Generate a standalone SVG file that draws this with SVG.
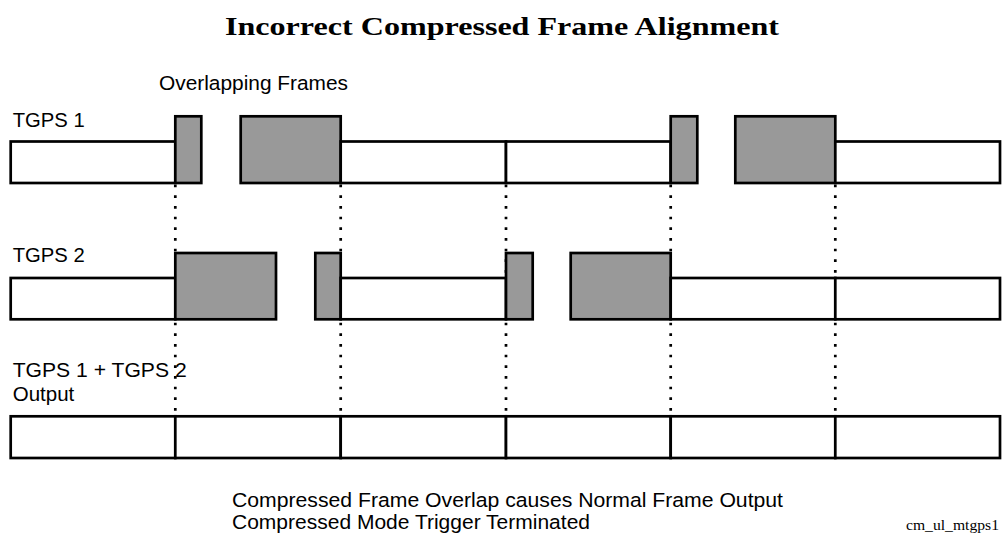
<svg xmlns="http://www.w3.org/2000/svg" width="1002" height="543" viewBox="0 0 1002 543">
<style>
.n{fill:#ffffff;stroke:#000;stroke-width:2.7}
.c{fill:#999999;stroke:#000;stroke-width:2.7}
.d{stroke:#000;stroke-width:2.7;stroke-dasharray:2.7 7.97;fill:none}
.t{font-family:"Liberation Sans",Arial,sans-serif;font-size:20.5px;fill:#000}
.h{font-family:"Liberation Serif","Times New Roman",serif;font-size:26px;font-weight:bold;fill:#000}
.s{font-family:"Liberation Serif","Times New Roman",serif;font-size:14px;fill:#000}
</style>
<rect width="1002" height="543" fill="#fff"/>
<text class="h" x="502" y="35" text-anchor="middle" textLength="554" lengthAdjust="spacingAndGlyphs">Incorrect Compressed Frame Alignment</text>
<text class="t" x="159" y="90" textLength="189" lengthAdjust="spacingAndGlyphs">Overlapping Frames</text>

<g id="connectors">
<line class="d" x1="175.3" y1="184.65" x2="175.3" y2="251.7"/>
<line class="d" x1="340.7" y1="184.65" x2="340.7" y2="251.7"/>
<line class="d" x1="506" y1="184.65" x2="506" y2="276.7"/>
<line class="d" x1="670.7" y1="184.65" x2="670.7" y2="251.7"/>
<line class="d" x1="835.3" y1="184.65" x2="835.3" y2="276.7"/>
<line class="d" x1="175.3" y1="322.65" x2="175.3" y2="415"/>
<line class="d" x1="340.7" y1="322.65" x2="340.7" y2="415"/>
<line class="d" x1="506" y1="322.65" x2="506" y2="415"/>
<line class="d" x1="670.7" y1="322.65" x2="670.7" y2="415"/>
<line class="d" x1="835.3" y1="322.65" x2="835.3" y2="415"/>
</g>

<g id="tgps1">
<text class="t" x="12.7" y="126.7" textLength="72" lengthAdjust="spacingAndGlyphs">TGPS 1</text>
<rect class="n" x="10.7" y="141.5" width="164.6" height="41.5"/>
<rect class="c" x="175.3" y="116.3" width="26" height="66.7"/>
<rect class="c" x="240.7" y="116.3" width="100" height="66.7"/>
<rect class="n" x="340.7" y="141.5" width="165.3" height="41.5"/>
<rect class="n" x="506" y="141.5" width="164.7" height="41.5"/>
<rect class="c" x="670.7" y="116.3" width="26.6" height="66.7"/>
<rect class="c" x="735.3" y="116.3" width="100" height="66.7"/>
<rect class="n" x="835.3" y="141.5" width="164.7" height="41.5"/>
</g>

<g id="tgps2">
<text class="t" x="12.7" y="262.3" textLength="72" lengthAdjust="spacingAndGlyphs">TGPS 2</text>
<rect class="n" x="10.7" y="278" width="164.6" height="41.3"/>
<rect class="c" x="175.3" y="253" width="100.7" height="66.3"/>
<rect class="c" x="315.3" y="253" width="25.4" height="66.3"/>
<rect class="n" x="340.7" y="278" width="165.3" height="41.3"/>
<rect class="c" x="506" y="253" width="26.7" height="66.3"/>
<rect class="c" x="570.7" y="253" width="100" height="66.3"/>
<rect class="n" x="670.7" y="278" width="164.6" height="41.3"/>
<rect class="n" x="835.3" y="278" width="164.7" height="41.3"/>
</g>

<g id="output">
<text class="t" x="12.7" y="376.7" textLength="174" lengthAdjust="spacingAndGlyphs">TGPS 1 + TGPS 2</text>
<text class="t" x="12.7" y="400.7">Output</text>
<rect class="n" x="10.7" y="416.3" width="164.6" height="41.7"/>
<rect class="n" x="175.3" y="416.3" width="165.4" height="41.7"/>
<rect class="n" x="340.7" y="416.3" width="165.3" height="41.7"/>
<rect class="n" x="506" y="416.3" width="164.7" height="41.7"/>
<rect class="n" x="670.7" y="416.3" width="164.6" height="41.7"/>
<rect class="n" x="835.3" y="416.3" width="164.7" height="41.7"/>
</g>

<g id="caption">
<text class="t" x="232" y="506.7" textLength="551" lengthAdjust="spacingAndGlyphs">Compressed Frame Overlap causes Normal Frame Output</text>
<text class="t" x="232" y="529.3" textLength="358" lengthAdjust="spacingAndGlyphs">Compressed Mode Trigger Terminated</text>
<text class="s" x="906" y="530" textLength="93" lengthAdjust="spacingAndGlyphs">cm_ul_mtgps1</text>
</g>
</svg>
